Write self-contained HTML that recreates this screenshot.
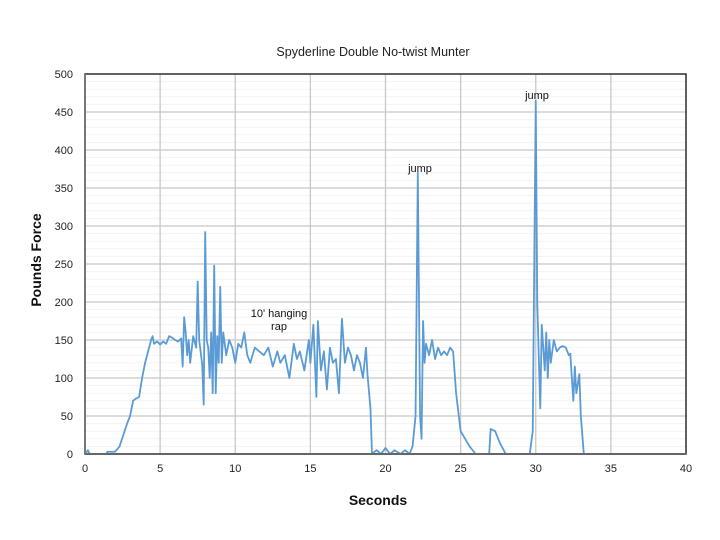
<!DOCTYPE html>
<html><head><meta charset="utf-8"><style>
body{margin:0;background:#fff;}
svg{display:block;font-family:"Liberation Sans",sans-serif;}
</style></head><body>
<svg id="c" width="720" height="540"></svg>
<script>
const times=[0,0.2,0.3,0.5,1.4,1.5,1.7,2.0,2.3,2.6,2.8,3.0,3.2,3.4,3.6,3.8,4.0,4.2,4.4,4.5,4.6,4.8,5.0,5.2,5.4,5.6,5.8,6.0,6.2,6.4,6.5,6.6,6.7,6.8,6.9,7.0,7.2,7.4,7.5,7.6,7.8,7.9,8.0,8.1,8.2,8.3,8.4,8.5,8.6,8.7,8.8,8.9,9.0,9.1,9.2,9.4,9.6,9.8,10.0,10.2,10.4,10.6,10.8,11.0,11.3,11.6,11.9,12.2,12.5,12.8,13.0,13.3,13.6,13.9,14.1,14.3,14.6,14.9,15.0,15.2,15.4,15.5,15.7,15.9,16.1,16.3,16.5,16.7,16.9,17.1,17.3,17.5,17.7,17.9,18.1,18.3,18.5,18.7,18.8,19.0,19.1,19.4,19.7,20.0,20.3,20.6,21.0,21.3,21.6,21.8,22.0,22.15,22.3,22.4,22.5,22.6,22.7,22.9,23.1,23.3,23.5,23.7,23.9,24.1,24.3,24.5,24.7,25.0,25.3,25.6,26.0,26.9,27.0,27.3,27.6,28.0,29.6,29.8,30.0,30.1,30.3,30.4,30.6,30.7,30.8,30.9,31.0,31.2,31.4,31.6,31.8,32.0,32.2,32.3,32.5,32.6,32.7,32.9,33.0,33.2,40];
const forces=[0,5,0,0,0,3,3,3,10,28,40,50,70,73,75,100,120,135,150,155,145,148,144,148,145,155,153,150,148,152,115,180,160,130,150,120,155,140,227,150,118,65,292,150,140,100,160,80,248,80,155,120,220,120,160,130,150,140,120,145,140,160,130,120,140,135,130,140,115,135,120,130,100,145,125,135,110,150,120,170,75,175,110,135,85,140,120,125,80,178,120,140,130,110,130,120,100,140,105,60,0,5,0,8,0,5,0,5,0,10,50,370,50,20,175,120,145,130,150,125,140,130,135,130,140,135,80,30,20,10,0,0,33,30,15,0,0,30,465,200,60,170,110,160,100,150,120,150,135,140,142,140,130,132,70,115,80,105,50,0,0];
const xTicks=[0,5,10,15,20,25,30,35,40];
const yTicks=[0,50,100,150,200,250,300,350,400,450,500];
const L=85,R=686,T=74,B=454;
const x=v=>L+(v/40)*(R-L), y=v=>B-(v/500)*(B-T);
const s=document.getElementById('c'),NS='http://www.w3.org/2000/svg';
function el(t,a,txt){const e=document.createElementNS(NS,t);for(const k in a)e.setAttribute(k,a[k]);if(txt!==undefined)e.textContent=txt;s.appendChild(e);return e;}
for(let v=10;v<500;v+=10){if(v%50===0)continue;const g=el('line',{x1:L,x2:R,y1:y(v),y2:y(v),stroke:'#f3f3f3','stroke-width':1});

}
yTicks.forEach(v=>{const g=el('line',{x1:L,x2:R,y1:y(v),y2:y(v),stroke:'#c8c8c8','stroke-width':1.3});


const t=el('text',{x:L-12,y:y(v)+4,'text-anchor':'end','font-size':11,fill:'#222'},v);

});
xTicks.forEach(v=>{const g=el('line',{x1:x(v),x2:x(v),y1:T,y2:B,stroke:'#c8c8c8','stroke-width':1.3});


const t=el('text',{x:x(v),y:B+18,'text-anchor':'middle','font-size':11,fill:'#222'},v);

});
const box=el('rect',{x:L,y:T,width:R-L,height:B-T,fill:'none',stroke:'#333','stroke-width':1.5});


const la=el('line',{x1:L,x2:L,y1:T,y2:B,stroke:'#777','stroke-width':2});


const p=el('polyline',{points:times.map((t,i)=>x(t)+','+y(forces[i])).join(' '),fill:'none',stroke:'#5b9bd5','stroke-width':1.8,'stroke-linejoin':'round'});


const bl=el('line',{x1:L,x2:R,y1:B,y2:B,stroke:'#666','stroke-width':2});


const tt=el('text',{x:373,y:56,'text-anchor':'middle','font-size':12.5,fill:'#222'},'Spyderline Double No-twist Munter');


const xt=el('text',{x:378,y:505,'text-anchor':'middle','font-size':14,'font-weight':'bold',fill:'#111'},'Seconds');


const yt=el('text',{x:0,y:0,'text-anchor':'middle','font-size':14,'font-weight':'bold',fill:'#111',transform:'translate(41,260) rotate(-90)'},'Pounds Force');


const a1=el('text',{x:279,y:317,'text-anchor':'middle','font-size':11,fill:'#111'},"10' hanging");


const a2=el('text',{x:279,y:330,'text-anchor':'middle','font-size':11,fill:'#111'},'rap');


const j1=el('text',{x:420,y:172,'text-anchor':'middle','font-size':11,fill:'#111'},'jump');


const j2=el('text',{x:537,y:99,'text-anchor':'middle','font-size':11,fill:'#111'},'jump');


</script>
</body></html>
